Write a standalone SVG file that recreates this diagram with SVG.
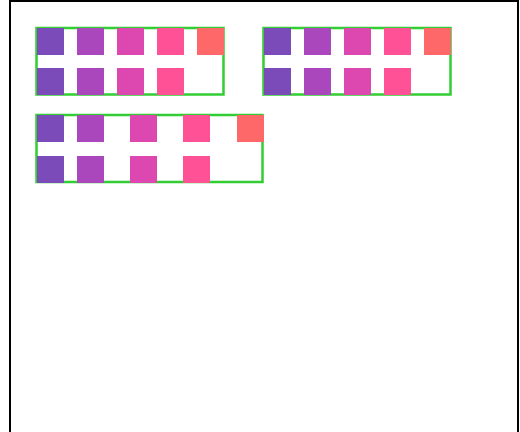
<svg xmlns="http://www.w3.org/2000/svg" width="520" height="432" viewBox="0 0 520 432">
<style>
.frame{fill:#fff;stroke:#000;stroke-width:2}
.box{fill:none;stroke:#32cd32;stroke-width:2.5}
.c1{fill:#7b4bb9}.c2{fill:#ab47bc}.c3{fill:#dc48b0}.c4{fill:#ff5296}.c5{fill:#ff6868}
</style>
<rect width="520" height="432" fill="#fff"/>
<rect class="frame" x="10" y="1" width="508" height="440"/>
<g id="group1">
<rect class="box" x="36.5" y="28" width="187" height="66.5"/>
<rect class="c1" x="37" y="28" width="27" height="27"/>
<rect class="c2" x="77" y="28" width="27" height="27"/>
<rect class="c3" x="117" y="28" width="27" height="27"/>
<rect class="c4" x="157" y="28" width="27" height="27"/>
<rect class="c5" x="197" y="28" width="27" height="27"/>
<rect class="c1" x="37" y="68" width="27" height="27"/>
<rect class="c2" x="77" y="68" width="27" height="27"/>
<rect class="c3" x="117" y="68" width="27" height="27"/>
<rect class="c4" x="157" y="68" width="27" height="27"/>
</g>
<g id="group2">
<rect class="box" x="263.5" y="28" width="187" height="66.5"/>
<rect class="c1" x="264" y="28" width="27" height="27"/>
<rect class="c2" x="304" y="28" width="27" height="27"/>
<rect class="c3" x="344" y="28" width="27" height="27"/>
<rect class="c4" x="384" y="28" width="27" height="27"/>
<rect class="c5" x="424" y="28" width="27" height="27"/>
<rect class="c1" x="264" y="68" width="27" height="27"/>
<rect class="c2" x="304" y="68" width="27" height="27"/>
<rect class="c3" x="344" y="68" width="27" height="27"/>
<rect class="c4" x="384" y="68" width="27" height="27"/>
</g>
<g id="group3">
<rect class="box" x="36.5" y="115" width="226" height="67"/>
<rect class="c1" x="37" y="115" width="27" height="27"/>
<rect class="c2" x="77" y="115" width="27" height="27"/>
<rect class="c3" x="130" y="115" width="27" height="27"/>
<rect class="c4" x="183" y="115" width="27" height="27"/>
<rect class="c5" x="237" y="115" width="27" height="27"/>
<rect class="c1" x="37" y="156" width="27" height="27"/>
<rect class="c2" x="77" y="156" width="27" height="27"/>
<rect class="c3" x="130" y="156" width="27" height="27"/>
<rect class="c4" x="183" y="156" width="27" height="27"/>
</g>
<g id="connectors"/>
</svg>
